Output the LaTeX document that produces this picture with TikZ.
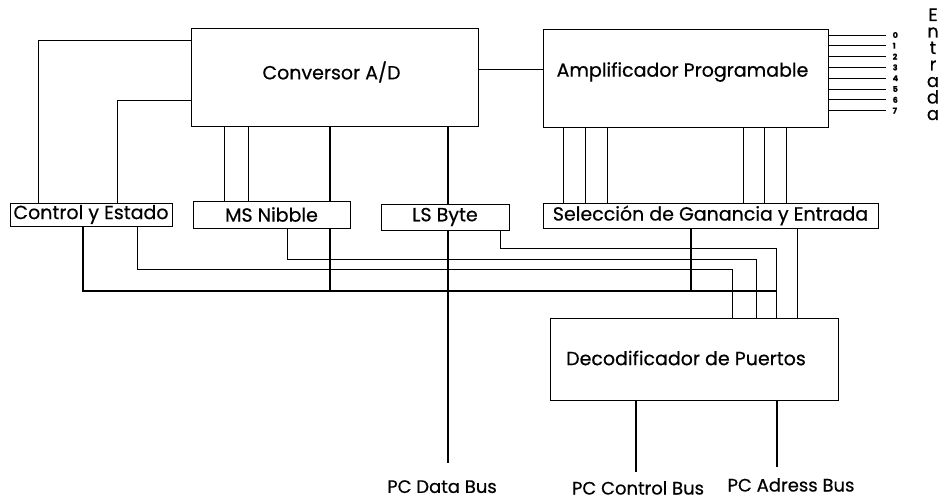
\documentclass[tikz,border=0pt]{standalone}
\usepackage{fontspec}
\setmainfont{Poppins}[FakeBold=0.5]
\usetikzlibrary{positioning,calc}
\tikzset{
  block/.style={draw, line width=0.7pt, inner sep=0pt, font=\fontsize{19}{21}\selectfont},
  sig/.style={line width=0.7pt},
  bus/.style={line width=2.6pt},
  pin/.style={inner sep=0pt, font=\fontsize{8}{8}\selectfont\bfseries},
  buslabel/.style={inner sep=0pt, font=\fontsize{18}{20}\selectfont}
}

\begin{document}
\begin{tikzpicture}[x=1pt,y=-1pt]
    \useasboundingbox (0,0) rectangle (942,500);

    % blocks
    \node[block, minimum width=287pt, minimum height=98pt] (adc) at (334.5,77) {};
    \node[block, minimum width=285pt, minimum height=98pt] (amp) at (685.5,78) {};
    \node[block, minimum width=162pt, minimum height=23pt] (ctrl) at (91,214.5) {Control y Estado};
    \node[block, minimum width=157pt, minimum height=27pt] (msn) at (271.5,214.5) {MS Nibble};
    \node[block, minimum width=128pt, minimum height=26pt] (lsb) at (445,217) {LS Byte};
    \node[block, minimum width=335pt, minimum height=25pt] (sel) at (710.5,215.5) {Selección de Ganancia y Entrada};
    \node[block, minimum width=288pt, minimum height=82pt] (dec) at (694,359) {};
    \node[block, draw=none, xshift=-3pt, yshift=5pt] at (adc) {Conversor A/D};
    \node[block, draw=none, xshift=-3pt, yshift=6pt] at (amp) {Amplificador Programable};
    \node[block, draw=none, xshift=-8pt, yshift=1pt] at (dec) {Decodificador de Puertos};

    % bus ends
    \coordinate (bus) at (776,291);
    \coordinate (pcd) at (448,463);
    \coordinate (pcc) at (636,472);
    \coordinate (pca) at (777,467);
    \node[buslabel, below=17pt of pcd, xshift=-6pt] {PC Data Bus};
    \node[buslabel, below=9pt of pcc, xshift=2pt] {PC Control Bus};
    \node[buslabel, below=11pt of pca, xshift=14pt] {PC Adress Bus};

    % control
    \draw[sig] (ctrl.north -| 38,0) |- (adc.west |- 0,40);
    \draw[sig] (ctrl.north -| 117,0) |- (adc.west |- 0,100);
    \draw[sig] (adc.east |- 0,69) -- (amp.west |- 0,69);

    % nibble and byte
    \foreach \x in {224,248}
      \draw[sig] (adc.south -| \x,0) -- (msn.north -| \x,0);
    \draw[bus] (adc.south -| 330,0) -- (msn.north -| 330,0);
    \draw[bus] (msn.south -| 330,0) -- (bus -| 330,0);
    \draw[bus] (adc.south -| 448,0) -- (lsb.north -| 448,0);
    \draw[bus] (lsb.south -| 448,0) -- (pcd);

    % gain and input select
    \foreach \x in {563,585,607,743,764,786}
      \draw[sig] (amp.south -| \x,0) -- (sel.north -| \x,0);
    \draw[bus] (sel.south -| 691,0) -- (bus -| 691,0);
    \draw[sig] (sel.south -| 797,0) -- (dec.north -| 797,0);

    % main bus
    \draw[bus] (ctrl.south -| 83,0) |- (bus);

    % port selects
    \draw[sig] (lsb.south -| 500,0) |- (776,248) -- (dec.north -| 776,0);
    \draw[sig] (msn.south -| 287,0) |- (756,259) -- (dec.north -| 756,0);
    \draw[sig] (ctrl.south -| 137,0) |- (732,269) -- (dec.north -| 732,0);

    % pc side
    \draw[bus] (dec.south -| pcc) -- (pcc);
    \draw[bus] (dec.south -| pca) -- (pca);

    % inputs
    \foreach \i in {0,...,7}
      \draw[sig] (amp.east |- 0,{35+10.8*\i}) -- ++(58,0) node[pin, right=6pt] {\i};
    \foreach \c [count=\k] in {E,n,t,r,a,d,a}
      \node[buslabel, anchor=base, font=\fontsize{18}{18}\selectfont] (ent\k) at (933,{21+16.5*(\k-1)}) {\c};
\end{tikzpicture}
\end{document}
